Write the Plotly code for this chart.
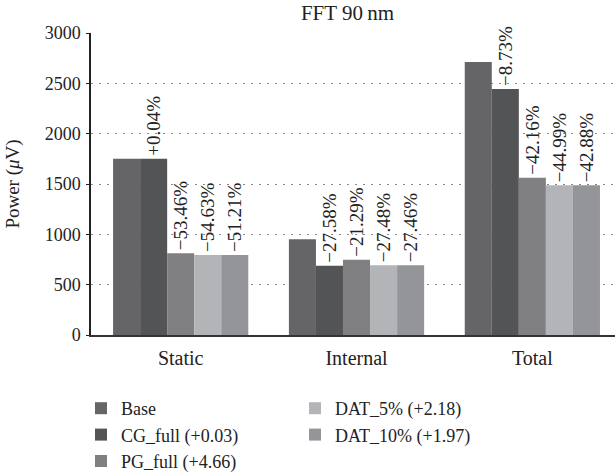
import plotly.graph_objects as go

categories = ["Static", "Internal", "Total"]
series_names = ["Base", "CG_full (+0.03)", "PG_full (+4.66)", "DAT_5% (+2.18)", "DAT_10% (+1.97)"]
base = [1750, 950, 2712]
cg_full = [1751, 688, 2443]
pg_full = [812, 748, 1562]
dat_5 = [795, 692, 1487]
dat_10 = [795, 692, 1487]
base_labels = ["", "", ""]
cg_labels = ["+0.04%", "\u221227.58%", "\u22128.73%"]
pg_labels = ["\u221253.46%", "\u221221.29%", "\u221242.16%"]
dat5_labels = ["\u221254.63%", "\u221227.48%", "\u221244.99%"]
dat10_labels = ["\u221251.21%", "\u221227.46%", "\u221242.88%"]
y_ticks = [0, 500, 1000, 1500, 2000, 2500, 3000]

colors = ["#656567", "#535456", "#808083", "#b3b4b7", "#949598"]
values = [base, cg_full, pg_full, dat_5, dat_10]
labels = [base_labels, cg_labels, pg_labels, dat5_labels, dat10_labels]
legends = ["legend", "legend", "legend", "legend2", "legend2"]

FONT = "Liberation Serif"

fig = go.Figure()
for name, vals, lab, col, lg in zip(series_names, values, labels, colors, legends):
    fig.add_trace(go.Bar(
        x=categories, y=vals, name=name, marker=dict(color=col, line=dict(width=0)),
        text=lab, textposition="outside", textangle=-90, constraintext="none",
        textfont=dict(family=FONT, size=19, color="#222"), cliponaxis=False,
        legend=lg,
    ))

fig.update_layout(
    width=615, height=472,
    margin=dict(l=91, r=0, t=33, b=137, autoexpand=False),
    paper_bgcolor="white", plot_bgcolor="white",
    barmode="group", bargap=0.231, bargroupgap=0,
    font=dict(family=FONT, size=18, color="#222"),
    title=dict(text="FFT 90\u2009nm", x=347.5/615, xanchor="center", xref="container",
               y=1 - 13/472, yanchor="middle", yref="container",
               font=dict(family=FONT, size=21, color="#222")),
    xaxis=dict(range=[-0.51, 2.47], showline=True, linecolor="#333", linewidth=1.5,
               ticks="", tickfont=dict(family=FONT, size=20, color="#222"),
               ticklabelstandoff=4,
               showgrid=False, zeroline=False),
    yaxis=dict(range=[0, 3000], tickvals=y_ticks, showline=True, linecolor="#222", linewidth=1.5,
               ticks="outside", ticklen=3, tickcolor="#222",
               tickfont=dict(family=FONT, size=18, color="#222"),
               ticklabelstandoff=2,
               showgrid=True, gridcolor="#888", gridwidth=1, griddash="2px,6px",
               zeroline=False,
               title=dict(text="Power (<i>\u03bc</i>V)", standoff=20,
                          font=dict(family=FONT, size=19, color="#222"))),
    legend=dict(xref="paper", yref="paper", x=-10/524, y=-55/302,
                xanchor="left", yanchor="top", orientation="v",
                font=dict(family=FONT, size=18, color="#222"), bgcolor="rgba(0,0,0,0)",
                traceorder="normal"),
    legend2=dict(xref="paper", yref="paper", x=204/524, y=-55/302,
                 xanchor="left", yanchor="top", orientation="v",
                 font=dict(family=FONT, size=18, color="#222"), bgcolor="rgba(0,0,0,0)",
                 traceorder="normal"),
)

fig.write_html(
    "out.html",
    config={"displayModeBar": False},
    post_script="document.body.style.margin='0';document.body.style.padding='0';document.body.style.overflow='hidden';",
)
